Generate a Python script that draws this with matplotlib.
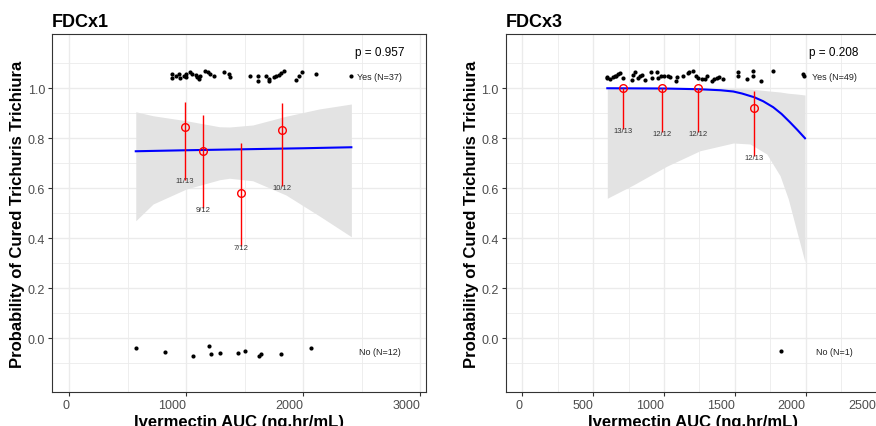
import matplotlib
matplotlib.use("Agg")
import matplotlib.pyplot as plt
import numpy as np

plt.rcParams['font.family'] = ['Liberation Sans', 'DejaVu Sans']

# ---------------- data: FDCx1 ----------------
yes1_x = [880, 880, 915, 937, 949, 977, 994, 994, 1034, 1051, 1079, 1090, 1107,
          1164, 1184, 1205, 1241, 1326, 1363, 1375, 1545, 1610, 1610, 1681, 1704,
          1710, 1752, 1766, 1789, 1809, 1837, 1942, 1965, 1993, 2107, 2405, 1113]
yes1_y = [1.058, 1.040, 1.048, 1.057, 1.040, 1.048, 1.058, 1.044, 1.064, 1.057,
          1.053, 1.044, 1.037, 1.070, 1.064, 1.057, 1.050, 1.066, 1.057, 1.044,
          1.050, 1.050, 1.030, 1.050, 1.030, 1.037, 1.044, 1.048, 1.053, 1.061,
          1.070, 1.034, 1.050, 1.066, 1.057, 1.050, 1.050]
no1_x = [566, 817, 1059, 1193, 1215, 1292, 1440, 1503, 1620, 1642, 1813, 2064]
no1_y = [-0.039, -0.055, -0.071, -0.031, -0.061, -0.060, -0.060, -0.052, -0.069,
         -0.063, -0.061, -0.040]
fit1_x = [568, 1000, 1500, 2000, 2411]
fit1_y = [0.748, 0.752, 0.756, 0.760, 0.764]
ci1_x = [568, 716, 1000, 1284, 1369, 1568, 1852, 2135, 2411]
ci1_hi = [0.906, 0.890, 0.870, 0.846, 0.845, 0.853, 0.888, 0.917, 0.937]
ci1_lo = [0.470, 0.537, 0.597, 0.634, 0.640, 0.630, 0.573, 0.490, 0.406]
bin1_x = [985, 1145, 1471, 1820]
bin1_p = [0.846, 0.750, 0.583, 0.833]
bin1_hi = [0.947, 0.893, 0.780, 0.941]
bin1_lo = [0.635, 0.522, 0.370, 0.610]
bin1_lab = ['11/13', '9/12', '7/12', '10/12']
p1_text = 'p = 0.957'
yes1_lab = 'Yes (N=37)'
no1_lab = 'No (N=12)'

# ---------------- data: FDCx3 ----------------
yes2_x = [596, 619, 638, 654, 678, 692, 708, 772, 795, 819, 831, 843, 866, 906,
          913, 953, 960, 977, 1000, 1030, 1085, 1094, 1132, 1179, 1207, 1224,
          1242, 1266, 1289, 1337, 1353, 1372, 1390, 1414, 1520, 1520, 1584, 1630,
          1630, 1682, 1771, 1979, 1988, 600, 660, 780, 1040, 1300, 1170]
yes2_y = [1.040, 1.037, 1.044, 1.048, 1.057, 1.061, 1.040, 1.033, 1.066, 1.040,
          1.048, 1.053, 1.033, 1.066, 1.040, 1.066, 1.040, 1.048, 1.050, 1.050,
          1.030, 1.044, 1.050, 1.066, 1.070, 1.048, 1.040, 1.037, 1.037, 1.030,
          1.037, 1.040, 1.044, 1.037, 1.066, 1.048, 1.037, 1.070, 1.050, 1.030,
          1.068, 1.057, 1.048, 1.045, 1.050, 1.052, 1.045, 1.050, 1.062]
no2_x = [1828]
no2_y = [-0.049]
fit2_x = [600, 1000, 1254, 1400, 1489, 1550, 1637, 1700, 1771, 1830, 1889, 1940, 1995]
fit2_y = [1.000, 0.999, 0.996, 0.992, 0.987, 0.979, 0.964, 0.948, 0.924, 0.897,
          0.864, 0.834, 0.800]
ci2_x = [600, 783, 1019, 1254, 1489, 1607, 1725, 1819, 1877, 1936, 1995]
ci2_hi = [1.0, 1.0, 1.0, 1.0, 0.999, 0.997, 0.990, 0.985, 0.980, 0.977, 0.973]
ci2_lo = [0.560, 0.613, 0.688, 0.750, 0.781, 0.777, 0.737, 0.650, 0.557, 0.430, 0.304]
bin2_x = [708, 983, 1238, 1637]
bin2_p = [1.0, 1.0, 1.0, 0.923]
bin2_hi = [1.0, 1.0, 1.0, 0.990]
bin2_lo = [0.838, 0.826, 0.826, 0.728]
bin2_lab = ['13/13', '12/12', '12/12', '12/13']
p2_text = 'p = 0.208'
yes2_lab = 'Yes (N=49)'
no2_lab = 'No (N=1)'

W, H = 876, 427
fig = plt.figure(figsize=(W / 100, H / 100), dpi=100)

GRID = '#EBEBEB'
TICKC = '#4D4D4D'


def panel(rect, title, xlim, xmajor, xminor, yes_x, yes_y, no_x, no_y,
          fx, fy, cx, chi, clo, bx, bp, bhi, blo, blab, ptxt, ylab, nlab, tx):
    ax = fig.add_axes(rect)
    ax.set_xlim(*xlim)
    ax.set_ylim(-0.215, 1.217)
    ax.set_xticks(xmajor)
    ax.set_xticklabels([str(v) for v in xmajor], ha='right')
    ax.set_xticks(xminor, minor=True)
    ax.set_yticks([0, 0.2, 0.4, 0.6, 0.8, 1.0])
    ax.set_yticks([-0.1, 0.1, 0.3, 0.5, 0.7, 0.9, 1.1], minor=True)
    ax.set_yticklabels(['0.0', '0.2', '0.4', '0.6', '0.8', '1.0'])
    ax.grid(which='major', color=GRID, lw=1.0, zorder=0)
    ax.grid(which='minor', color=GRID, lw=0.6, zorder=0)
    ax.set_axisbelow(True)
    ax.tick_params(which='major', length=3, width=0.8, color='#333333',
                   labelsize=9, labelcolor=TICKC, pad=2)
    ax.tick_params(which='minor', length=0)
    for s in ax.spines.values():
        s.set_color('#333333')
        s.set_linewidth(0.8)

    ax.fill_between(cx, clo, chi, color='#E3E3E3', lw=0, zorder=1)
    ax.plot(fx, fy, color='#0000FF', lw=1.5, zorder=3)
    ax.vlines(bx, blo, bhi, color='#FF0000', lw=1.0, zorder=4)
    ax.plot(bx, bp, 'o', mfc='none', mec='#FF0000', mew=1.0, ms=5.5, zorder=5)
    for x, y, t in zip(bx, blo, blab):
        ax.annotate(t, (x, y), xytext=(0, 1.5), textcoords='offset points',
                    ha='center', va='top', fontsize=5.5, color='#333333', zorder=6)
    ax.plot(yes_x, yes_y, 'o', color='black', ms=3, mew=0, zorder=4)
    ax.plot(no_x, no_y, 'o', color='black', ms=3, mew=0, zorder=4)
    ax.text(tx, 1.147, ptxt, ha='center', va='center', fontsize=8.5, color='black')
    ax.text(tx, 1.046, ylab, ha='center', va='center', fontsize=6.5, color='#222222')
    ax.text(tx, -0.053, nlab, ha='center', va='center', fontsize=6.5, color='#222222')

    ax.set_xlabel('Ivermectin AUC (ng.hr/mL)', fontsize=12, fontweight='bold',
                  labelpad=2)
    ax.set_ylabel('Probability of Cured Trichuris Trichiura', fontsize=12,
                  fontweight='bold', labelpad=2)
    fig.text(rect[0], 1 - 27 / H, title, fontsize=13, fontweight='bold',
             ha='left', va='baseline')
    return ax


rect1 = [52 / W, 1 - 393 / H, 374 / W, 358 / H]
rect2 = [505.7 / W, 1 - 393 / H, 374 / W, 358 / H]

panel(rect1, 'FDCx1', (-148, 3049), [0, 1000, 2000, 3000], [500, 1500, 2500],
      yes1_x, yes1_y, no1_x, no1_y, fit1_x, fit1_y, ci1_x, ci1_hi, ci1_lo,
      bin1_x, bin1_p, bin1_hi, bin1_lo, bin1_lab, p1_text, yes1_lab, no1_lab, 2655)
panel(rect2, 'FDCx3', (-117, 2522), [0, 500, 1000, 1500, 2000, 2500],
      [250, 750, 1250, 1750, 2250],
      yes2_x, yes2_y, no2_x, no2_y, fit2_x, fit2_y, ci2_x, ci2_hi, ci2_lo,
      bin2_x, bin2_p, bin2_hi, bin2_lo, bin2_lab, p2_text, yes2_lab, no2_lab, 2200)

fig.savefig('out.png', dpi=100)
